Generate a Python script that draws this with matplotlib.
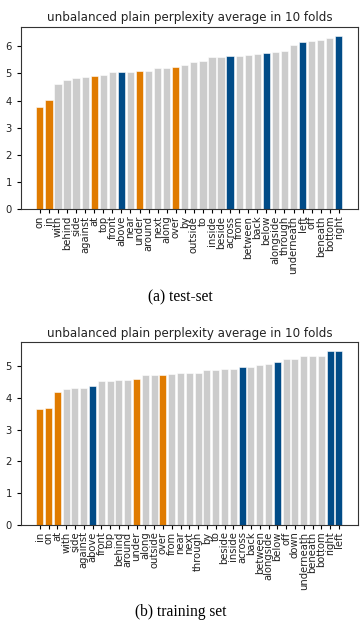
import numpy as np
import matplotlib
matplotlib.use("Agg")
import matplotlib.pyplot as plt

# test-set: prepositions sorted by perplexity
test_words = ["on", "in", "with", "behind", "side", "against", "at", "top", "front",
              "above", "near", "under", "around", "next", "along", "over", "by",
              "outside", "to", "inside", "beside", "across", "from", "between", "back",
              "below", "alongside", "through", "underneath", "left", "off", "beneath",
              "bottom", "right"]
test_values = [3.78, 4.03, 4.61, 4.76, 4.81, 4.85, 4.91, 4.92, 5.03,
               5.04, 5.05, 5.07, 5.08, 5.19, 5.20, 5.22, 5.29,
               5.43, 5.45, 5.59, 5.60, 5.63, 5.63, 5.69, 5.71,
               5.74, 5.79, 5.81, 6.04, 6.14, 6.20, 6.21,
               6.29, 6.38]

# training set
train_words = ["in", "on", "at", "with", "side", "against", "above", "front", "top",
               "behind", "around", "under", "along", "outside", "over", "from", "near",
               "next", "through", "by", "to", "beside", "inside", "across", "back",
               "between", "alongside", "below", "off", "down", "underneath", "beneath",
               "bottom", "right", "left"]
train_values = [3.64, 3.67, 4.17, 4.28, 4.29, 4.30, 4.37, 4.53, 4.54,
                4.55, 4.56, 4.60, 4.70, 4.71, 4.72, 4.75, 4.77,
                4.78, 4.79, 4.86, 4.88, 4.89, 4.90, 4.97, 4.98,
                5.03, 5.07, 5.13, 5.20, 5.23, 5.30, 5.31,
                5.32, 5.46, 5.47]

orange_words = ["on", "in", "at", "under", "over"]
blue_words = ["above", "across", "below", "left", "right"]

ORANGE = "#e07b00"
BLUE = "#004b87"
GREY = "#cccccc"


def bar_colors(words):
    cols = []
    for w in words:
        if w in orange_words:
            cols.append(ORANGE)
        elif w in blue_words:
            cols.append(BLUE)
        else:
            cols.append(GREY)
    return cols


def draw(ax, words, values):
    x = np.arange(len(words))
    ax.bar(x, values, width=0.8, color=bar_colors(words), edgecolor="white", linewidth=0.4)
    ax.set_xticks(x)
    ax.set_xticklabels(words, rotation=90, fontsize=7.2, color="#222222")
    ax.tick_params(axis="y", labelsize=7.2, labelcolor="#222222", length=3)
    ax.tick_params(axis="x", length=3, pad=1.5)
    ax.set_title("unbalanced plain perplexity average in 10 folds", fontsize=8.6,
                 color="#222222", pad=4)
    for s in ax.spines.values():
        s.set_color("#333333")
        s.set_linewidth(0.8)


fig = plt.figure(figsize=(3.61, 6.29), dpi=100)
ax1 = fig.add_axes([0.058, 0.667, 0.933, 0.290])
ax2 = fig.add_axes([0.058, 0.165, 0.933, 0.291])

draw(ax1, test_words, test_values)
draw(ax2, train_words, train_values)

fig.text(0.5, 1 - 297 / 629, "(a) test-set", ha="center", va="center",
         fontsize=11.2, family="Liberation Serif")
fig.text(0.5, 1 - 612 / 629, "(b) training set", ha="center", va="center",
         fontsize=11.2, family="Liberation Serif")

fig.savefig("out.png", dpi=100)
